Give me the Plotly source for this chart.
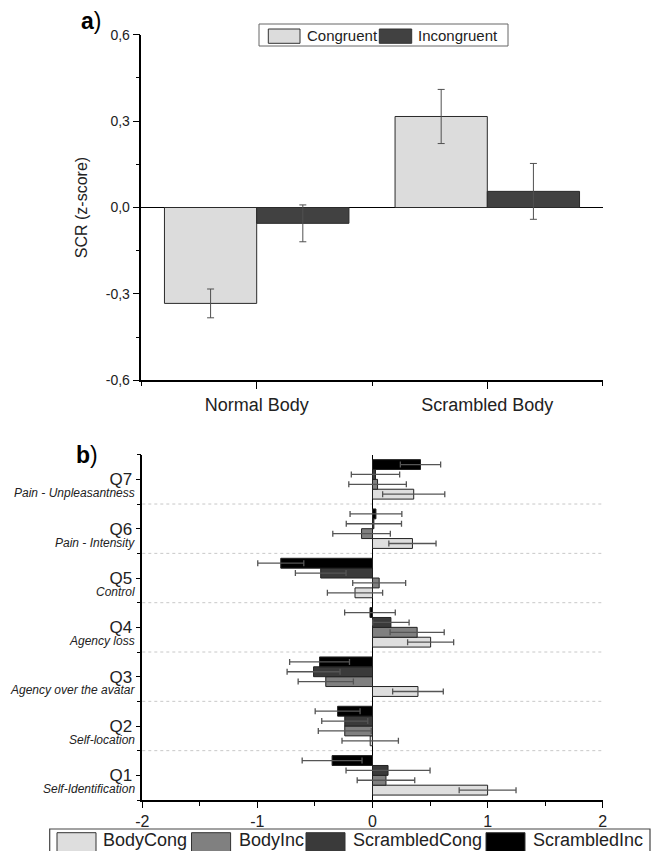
import plotly.graph_objects as go

# ---------------- data: panel a ----------------
a_categories = ["Normal Body", "Scrambled Body"]
a_congruent = [-0.333, 0.316]
a_congruent_err = [0.050, 0.094]
a_incongruent = [-0.055, 0.056]
a_incongruent_err = [0.064, 0.097]
a_ytickvals = [-0.6, -0.3, 0.0, 0.3, 0.6]
a_yticktext = ["-0,6", "-0,3", "0,0", "0,3", "0,6"]

# ---------------- data: panel b ----------------
b_questions = ["Q1", "Q2", "Q3", "Q4", "Q5", "Q6", "Q7"]
b_subtitles = ["Self-Identification", "Self-location", "Agency over the avatar",
               "Agency loss", "Control", "Pain - Intensity", "Pain - Unpleasantness"]
body_cong = [1.00, -0.020, 0.395, 0.505, -0.152, 0.347, 0.358]
body_cong_err = [0.247, 0.245, 0.220, 0.200, 0.240, 0.205, 0.270]
body_inc = [0.117, -0.241, -0.406, 0.388, 0.058, -0.095, 0.044]
body_inc_err = [0.250, 0.230, 0.240, 0.235, 0.230, 0.250, 0.250]
scr_cong = [0.135, -0.241, -0.512, 0.160, -0.450, 0.012, 0.026]
scr_cong_err = [0.365, 0.200, 0.230, 0.158, 0.220, 0.240, 0.210]
scr_inc = [-0.351, -0.303, -0.460, -0.022, -0.797, 0.030, 0.417]
scr_inc_err = [0.260, 0.195, 0.260, 0.220, 0.200, 0.225, 0.175]
b_xtickvals = [-2, -1, 0, 1, 2]
b_xticktext = ["-2", "-1", "0", "1", "2"]

W, H = 660, 851
SANS = "Liberation Sans, Arial, sans-serif"

def px(x):
    return x / W

def py(y):
    return 1 - y / H

fig = go.Figure()

# panel a
a_pos = list(range(len(a_categories)))
a_series = [
    ("Congruent", a_congruent, a_congruent_err, "#dcdcdc"),
    ("Incongruent", a_incongruent, a_incongruent_err, "#414141"),
]
for name, vals, errs, col in a_series:
    fig.add_trace(go.Bar(
        x=a_pos, y=vals, name=name, xaxis="x", yaxis="y",
        marker=dict(color=col, line=dict(color="#2a2a2a", width=1)),
        error_y=dict(type="data", array=errs, visible=True, color="#505050",
                     thickness=1, width=3.5),
        showlegend=False,
    ))

# panel b
b_pos = list(range(1, len(b_questions) + 1))
b_series = [
    ("BodyCong", body_cong, body_cong_err, "#dedede"),
    ("BodyInc", body_inc, body_inc_err, "#808080"),
    ("ScrambledCong", scr_cong, scr_cong_err, "#3a3a3a"),
    ("ScrambledInc", scr_inc, scr_inc_err, "#000000"),
]
for name, vals, errs, col in b_series:
    fig.add_trace(go.Bar(
        y=b_pos, x=vals, name=name, orientation="h", xaxis="x2", yaxis="y2",
        marker=dict(color=col, line=dict(color="#222222", width=1)),
        error_x=dict(type="data", array=errs, visible=True, color="#555555",
                     thickness=1.3, width=3),
        showlegend=False,
    ))

axis_common = dict(showline=True, linecolor="black", linewidth=1.5,
                   showgrid=False, ticks="outside", tickcolor="black",
                   tickwidth=1.2, automargin=False)

fig.update_layout(
    width=W, height=H,
    margin=dict(l=0, r=0, t=0, b=0, autoexpand=False),
    paper_bgcolor="white", plot_bgcolor="white",
    barmode="group", bargap=0.2, bargroupgap=0,
    font=dict(family=SANS, color="black"),
    hovermode=False,
    xaxis=dict(domain=[px(141.4), px(602.6)], anchor="y",
               range=[-0.5, len(a_categories) - 0.5],
               tickvals=a_pos, ticktext=a_categories, ticklen=7,
               tickfont=dict(family=SANS, size=18, color="#222"),
               minor=dict(tickvals=[p + 0.5 for p in [-1] + a_pos], ticks="outside",
                          ticklen=4, tickcolor="black"),
               zeroline=False, **axis_common),
    yaxis=dict(domain=[py(380.3), py(34.7)], anchor="x",
               range=[-0.6, 0.6],
               tickvals=a_ytickvals, ticktext=a_yticktext, ticklen=7,
               tickfont=dict(family=SANS, size=14, color="#222"),
               minor=dict(dtick=0.15, tick0=0, ticks="outside", ticklen=4,
                          tickcolor="black"),
               zeroline=True, zerolinecolor="black", zerolinewidth=1.2,
               title=dict(text="SCR (z-score)", font=dict(family=SANS, size=16, color="#222"),
                          standoff=14),
               **axis_common),
    xaxis2=dict(domain=[px(142.3), px(602.7)], anchor="y2",
                range=[-2, 2],
                tickvals=b_xtickvals, ticktext=b_xticktext, ticklen=6,
                tickfont=dict(family=SANS, size=16, color="#222"),
                minor=dict(dtick=0.5, tick0=0, ticks="outside", ticklen=4,
                           tickcolor="black"),
                zeroline=True, zerolinecolor="black", zerolinewidth=1.2,
                **axis_common),
    yaxis2=dict(domain=[py(800), py(454.7)], anchor="x2",
                range=[0.5, len(b_questions) + 0.5],
                tickvals=b_pos, ticktext=b_questions, ticklen=5,
                tickfont=dict(family=SANS, size=17, color="#222"),
                minor=dict(dtick=1, tick0=0.5, ticks="outside", ticklen=4,
                           tickcolor="black"),
                zeroline=False, **axis_common),
)

shapes = []
annotations = []

# separators in panel b
for p in b_pos[:-1]:
    shapes.append(dict(type="line", xref="x2 domain", yref="y2", x0=0, x1=1,
                       y0=p + 0.5, y1=p + 0.5, layer="below",
                       line=dict(color="#c8c8c8", width=1, dash="dot")))

# subtitles under question labels
for p, sub in zip(b_pos, b_subtitles):
    annotations.append(dict(xref="paper", yref="y2", x=px(137), y=p - 0.28,
                            text="<i>" + sub + "</i>", showarrow=False,
                            xanchor="right", yanchor="middle",
                            font=dict(family=SANS, size=12, color="#222")))

# panel labels
annotations.append(dict(xref="paper", yref="paper", x=px(79), y=py(21),
                        text="<b>a</b>)", showarrow=False, xanchor="left",
                        yanchor="middle", font=dict(family=SANS, size=23, color="black")))
annotations.append(dict(xref="paper", yref="paper", x=px(74), y=py(455),
                        text="<b>b</b>)", showarrow=False, xanchor="left",
                        yanchor="middle", font=dict(family=SANS, size=23, color="black")))

# legend a
shapes.append(dict(type="rect", xref="paper", yref="paper", x0=px(259), x1=px(508),
                   y0=py(46), y1=py(24), line=dict(color="#666", width=1),
                   fillcolor="white"))
leg_a = [(268.3, 300, 305, a_series[0]), (379.3, 411.7, 416, a_series[1])]
for x0, x1, tx, s in leg_a:
    shapes.append(dict(type="rect", xref="paper", yref="paper", x0=px(x0), x1=px(x1),
                       y0=py(43.3), y1=py(29), line=dict(color="#333", width=1),
                       fillcolor=s[3]))
    annotations.append(dict(xref="paper", yref="paper", x=px(tx), y=py(35.5),
                            text=s[0], showarrow=False, xanchor="left", yanchor="middle",
                            font=dict(family=SANS, size=15, color="#222")))

# legend b
shapes.append(dict(type="rect", xref="paper", yref="paper", x0=px(49.7), x1=px(650),
                   y0=py(870), y1=py(829), line=dict(color="#444", width=1.2),
                   fillcolor="white"))
leg_b = [(57, 96, 101), (191.5, 230.6, 237), (306, 345, 351), (486, 525, 531)]
for (x0, x1, tx), s in zip(leg_b, b_series):
    shapes.append(dict(type="rect", xref="paper", yref="paper", x0=px(x0), x1=px(x1),
                       y0=py(870), y1=py(832.7), line=dict(color="#333", width=1),
                       fillcolor=s[3]))
    annotations.append(dict(xref="paper", yref="paper", x=px(tx), y=py(839.5),
                            text=s[0], showarrow=False, xanchor="left", yanchor="middle",
                            font=dict(family=SANS, size=18, color="#222")))

fig.update_layout(shapes=shapes, annotations=annotations)
fig.write_html("out.html", config={"displayModeBar": False},
               post_script="document.body.style.margin='0px';document.body.style.overflow='hidden';")
